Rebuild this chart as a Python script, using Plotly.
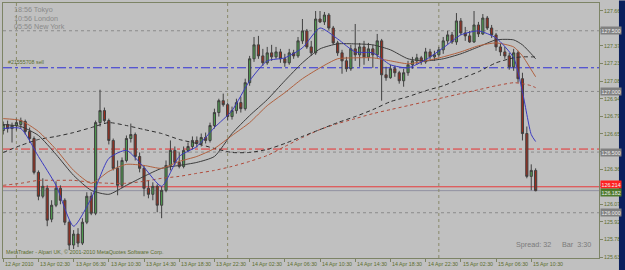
import pandas as pd
import plotly.graph_objects as go

# ---------------- data ----------------
bar_times = pd.date_range("2010-04-12 22:30", periods=122, freq="30min")

opens = [126.678, 126.727, 126.694, 126.719, 126.727, 126.752, 126.670, 126.612, 126.333, 126.136,
         126.202, 125.947, 126.062, 126.202, 126.103, 125.922, 125.734, 125.824, 125.750, 125.922,
         126.136, 125.996, 126.743, 126.842, 126.760, 126.596, 126.366, 126.226, 126.431, 126.612,
         126.645, 126.464, 126.366, 126.202, 126.152, 126.218, 126.062, 126.185, 126.390, 126.514,
         126.415, 126.382, 126.514, 126.546, 126.596, 126.571, 126.620, 126.596, 126.719, 126.826,
         126.924, 126.891, 126.793, 126.842, 126.908, 126.858, 127.072, 127.269, 127.384, 127.293,
         127.236, 127.318, 127.285, 127.326, 127.269, 127.236, 127.318, 127.293, 127.417, 127.499,
         127.367, 127.318, 127.597, 127.573, 127.630, 127.523, 127.400, 127.318, 127.252, 127.187,
         127.351, 127.302, 127.367, 127.285, 127.351, 127.302, 127.417, 127.137, 127.113, 127.187,
         127.154, 127.088, 127.154, 127.220, 127.252, 127.277, 127.244, 127.326, 127.285, 127.302,
         127.343, 127.417, 127.466, 127.408, 127.581, 127.482, 127.458, 127.408, 127.548, 127.474,
         127.605, 127.523, 127.466, 127.367, 127.326, 127.293, 127.203, 127.318, 127.105, 126.653,
         126.300, 126.349]

highs = [126.752, 126.760, 126.743, 126.776, 126.784, 126.768, 126.702, 126.629, 126.349, 126.284,
         126.226, 126.103, 126.259, 126.226, 126.119, 125.939, 125.857, 125.873, 125.955, 126.169,
         126.169, 126.760, 127.014, 126.867, 126.776, 126.612, 126.431, 126.456, 126.637, 126.735,
         126.661, 126.497, 126.390, 126.267, 126.251, 126.234, 126.218, 126.431, 126.596, 126.546,
         126.497, 126.546, 126.579, 126.629, 126.629, 126.653, 126.661, 126.743, 126.858, 126.940,
         126.982, 126.908, 126.875, 126.940, 126.957, 127.105, 127.293, 127.449, 127.458, 127.351,
         127.367, 127.384, 127.367, 127.351, 127.310, 127.351, 127.343, 127.449, 127.597, 127.515,
         127.417, 127.663, 127.663, 127.655, 127.646, 127.540, 127.417, 127.343, 127.285, 127.384,
         127.556, 127.400, 127.417, 127.400, 127.384, 127.474, 127.433, 127.203, 127.220, 127.211,
         127.170, 127.187, 127.252, 127.285, 127.310, 127.293, 127.359, 127.351, 127.335, 127.367,
         127.449, 127.499, 127.490, 127.646, 127.605, 127.532, 127.499, 127.663, 127.573, 127.638,
         127.622, 127.548, 127.482, 127.392, 127.367, 127.318, 127.351, 127.335, 127.154, 126.711,
         126.399, 126.366]

lows = [126.645, 126.661, 126.579, 126.678, 126.694, 126.645, 126.579, 126.316, 126.103, 126.119,
        125.889, 125.922, 126.046, 126.070, 125.898, 125.692, 125.701, 125.717, 125.734, 125.906,
        125.980, 125.980, 126.711, 126.743, 126.563, 126.349, 126.144, 126.202, 126.415, 126.579,
        126.431, 126.333, 126.136, 126.119, 126.103, 126.004, 125.955, 126.169, 126.349, 126.390,
        126.366, 126.366, 126.497, 126.522, 126.538, 126.546, 126.571, 126.579, 126.694, 126.793,
        126.875, 126.760, 126.768, 126.817, 126.826, 126.842, 127.047, 127.244, 127.269, 127.211,
        127.220, 127.252, 127.269, 127.236, 127.203, 127.220, 127.269, 127.277, 127.392, 127.351,
        127.293, 127.302, 127.564, 127.548, 127.507, 127.384, 127.293, 127.146, 127.162, 127.170,
        127.252, 127.203, 127.220, 127.252, 127.195, 127.277, 126.924, 127.088, 127.105, 127.121,
        127.064, 127.039, 127.129, 127.187, 127.220, 127.220, 127.228, 127.261, 127.252, 127.285,
        127.310, 127.392, 127.392, 127.384, 127.466, 127.417, 127.400, 127.400, 127.449, 127.466,
        127.507, 127.441, 127.335, 127.293, 127.269, 127.179, 127.170, 127.072, 126.596, 126.284,
        126.185, 126.177]

closes = [126.727, 126.694, 126.719, 126.743, 126.760, 126.670, 126.612, 126.333, 126.136, 126.218,
          125.939, 126.062, 126.202, 126.103, 125.922, 125.734, 125.824, 125.750, 125.922, 126.136,
          125.996, 126.743, 126.842, 126.760, 126.596, 126.366, 126.226, 126.431, 126.612, 126.645,
          126.464, 126.366, 126.202, 126.152, 126.218, 126.062, 126.185, 126.390, 126.514, 126.415,
          126.382, 126.514, 126.546, 126.596, 126.571, 126.620, 126.596, 126.719, 126.826, 126.924,
          126.891, 126.793, 126.842, 126.908, 126.858, 127.072, 127.269, 127.384, 127.293, 127.236,
          127.318, 127.285, 127.326, 127.269, 127.236, 127.318, 127.293, 127.417, 127.499, 127.367,
          127.318, 127.597, 127.573, 127.630, 127.523, 127.400, 127.318, 127.252, 127.187, 127.351,
          127.302, 127.367, 127.285, 127.351, 127.302, 127.417, 127.137, 127.113, 127.187, 127.154,
          127.088, 127.154, 127.220, 127.252, 127.277, 127.244, 127.326, 127.285, 127.302, 127.343,
          127.417, 127.466, 127.408, 127.581, 127.482, 127.458, 127.408, 127.548, 127.474, 127.605,
          127.523, 127.466, 127.367, 127.326, 127.293, 127.203, 127.318, 127.105, 126.653, 126.300,
          126.349, 126.182]

ma_times = list(pd.date_range("2010-04-12 22:30", "2010-04-15 08:30", freq="2h")) + [
    pd.Timestamp("2010-04-15 09:30"), pd.Timestamp("2010-04-15 10:30"), pd.Timestamp("2010-04-15 11:00")]

ma_fast = [126.694, 126.694, 126.464, 126.226, 125.889, 126.119, 126.448, 126.514, 126.374, 126.218,
           126.464, 126.546, 126.702, 126.842, 127.088, 127.252, 127.277, 127.359, 127.523, 127.433,
           127.326, 127.318, 127.220, 127.195, 127.261, 127.359, 127.466, 127.499, 127.441, 127.277,
           126.998, 126.645, 126.587]
ma_mid = [126.776, 126.760, 126.670, 126.522, 126.349, 126.243, 126.341, 126.399, 126.390, 126.366,
          126.423, 126.464, 126.530, 126.637, 126.743, 126.883, 126.990, 127.105, 127.195, 127.269,
          127.277, 127.277, 127.252, 127.228, 127.252, 127.285, 127.326, 127.376, 127.400, 127.367,
          127.293, 127.179, 127.121]
ma_slow = [126.727, 126.711, 126.637, 126.481, 126.308, 126.185, 126.152, 126.226, 126.300, 126.366,
           126.390, 126.415, 126.464, 126.653, 126.801, 126.932, 127.088, 127.236, 127.351, 127.392,
           127.392, 127.384, 127.343, 127.269, 127.252, 127.269, 127.310, 127.367, 127.425, 127.425,
           127.384, 127.310, 127.269]
ma_long = [126.497, 126.555, 126.604, 126.629, 126.661, 126.702, 126.743, 126.719, 126.686, 126.653,
           126.604, 126.571, 126.530, 126.497, 126.497, 126.522, 126.571, 126.629, 126.686, 126.743,
           126.793, 126.850, 126.916, 126.957, 127.006, 127.047, 127.105, 127.162, 127.236, 127.277,
           127.285, 127.285, 127.285]
ma_longest = [126.226, 126.243, 126.267, 126.267, 126.267, 126.251, 126.243, 126.243, 126.259, 126.284,
              126.300, 126.325, 126.349, 126.382, 126.423, 126.472, 126.546, 126.620, 126.686, 126.735,
              126.776, 126.817, 126.850, 126.883, 126.916, 126.949, 126.982, 127.014, 127.047, 127.072,
              127.064, 127.047, 127.031]

round_levels = [127.5, 127.0, 126.5, 126.0]
order_level = 127.195
red_level = 126.525
ask_price = 126.214
bid_price = 126.182
day_separators = ["2010-04-13 00:00", "2010-04-14 00:00", "2010-04-15 00:00"]

y_ticks = [127.665, 127.520, 127.375, 127.230, 127.085, 126.940, 126.795, 126.650,
           126.505, 126.360, 126.215, 126.070, 125.925, 125.780, 125.635]
y_ticks_hidden = [127.520, 126.505, 126.215]   # covered by price boxes in the reference

x_tick_times = ["2010-04-12 22:30", "2010-04-13 02:30", "2010-04-13 06:30", "2010-04-13 10:30",
                "2010-04-13 14:30", "2010-04-13 18:30", "2010-04-13 22:30", "2010-04-14 02:30",
                "2010-04-14 06:30", "2010-04-14 10:30", "2010-04-14 14:30", "2010-04-14 18:30",
                "2010-04-14 22:30", "2010-04-15 02:30", "2010-04-15 06:30", "2010-04-15 10:30"]
x_tick_labels = ["12 Apr 2010", "13 Apr 02:30", "13 Apr 06:30", "13 Apr 10:30", "13 Apr 14:30",
                 "13 Apr 18:30", "13 Apr 22:30", "14 Apr 02:30", "14 Apr 06:30", "14 Apr 10:30",
                 "14 Apr 14:30", "14 Apr 18:30", "14 Apr 22:30", "15 Apr 02:30", "15 Apr 06:30",
                 "15 Apr 10:30"]

sessions = ["18:56 Tokyo", "10:56 London", "05:56 New York"]

# ---------------- style ----------------
BG = "#c0c0c0"
OLIVE = "#5c6e2e"
FRAME = "#7d8466"
FONT = "Liberation Sans, Arial, sans-serif"
SMALL = 5.3

fig = go.Figure()

fig.add_trace(go.Candlestick(
    x=bar_times, open=opens, high=highs, low=lows, close=closes,
    increasing=dict(fillcolor="#4f9a4f", line=dict(color="#404040", width=1)),
    decreasing=dict(fillcolor="#9c2e1e", line=dict(color="#404040", width=1)),
    whiskerwidth=0, hoverinfo="skip", showlegend=False))

def ma_line(vals, color, dash="solid"):
    fig.add_trace(go.Scatter(x=ma_times, y=vals, mode="lines",
                             line=dict(color=color, width=1, dash=dash, shape="spline", smoothing=0.6),
                             hoverinfo="skip", showlegend=False))

ma_line(ma_longest, "#b04a3a", "dot")
ma_line(ma_long, "#2e2e2e", "4px,3px")
ma_line(ma_slow, "#3c3c3c")
ma_line(ma_mid, "#b0603e")
ma_line(ma_fast, "#3a3ac0")

shapes = []
for lv in round_levels:
    shapes.append(dict(type="line", xref="paper", x0=0, x1=1, yref="y", y0=lv, y1=lv,
                       line=dict(color="#8a8a8a", width=1, dash="dot"), layer="below"))
shapes.append(dict(type="line", xref="paper", x0=0, x1=1, yref="y", y0=order_level, y1=order_level,
                   line=dict(color="#3030d8", width=1, dash="dashdot"), layer="below"))
shapes.append(dict(type="line", xref="paper", x0=0, x1=1, yref="y", y0=red_level, y1=red_level,
                   line=dict(color="#e83030", width=1, dash="dashdot"), layer="below"))
shapes.append(dict(type="line", xref="paper", x0=0, x1=1, yref="y", y0=ask_price, y1=ask_price,
                   line=dict(color="#e83a3a", width=1), layer="below"))
shapes.append(dict(type="line", xref="paper", x0=0, x1=1, yref="y", y0=bid_price, y1=bid_price,
                   line=dict(color="#9090a0", width=1), layer="below"))
for d in day_separators:
    shapes.append(dict(type="line", xref="x", x0=d, x1=d, yref="paper", y0=0, y1=1,
                       line=dict(color="#8a8a6a", width=1, dash="dot"), layer="below"))
# window frame strips
shapes.append(dict(type="rect", xref="paper", yref="paper", x0=-0.01, x1=1.045, y0=-0.047, y1=-0.06,
                   fillcolor="#0a1f5c", line=dict(width=0)))
shapes.append(dict(type="rect", xref="paper", yref="paper", x0=1.0335, x1=1.045, y0=-0.06, y1=1.01,
                   fillcolor="#0a1f5c", line=dict(width=0)))

ann = []
for t, lab in zip(x_tick_times, x_tick_labels):
    ann.append(dict(x=t, xref="x", y=0, yref="paper", yanchor="top", xanchor="left", yshift=-1,
                    text=lab, showarrow=False, font=dict(family=FONT, size=SMALL, color=OLIVE)))
for i, s in enumerate(sessions):
    ann.append(dict(x=0.015, xref="paper", y=[0.973, 0.941, 0.906][i], yref="paper",
                    xanchor="left", yanchor="middle", text=s, showarrow=False,
                    font=dict(family=FONT, size=7.2, color="#8a8a8a")))
ann.append(dict(x=0.005, xref="paper", y=order_level, yref="y", yanchor="bottom", xanchor="left",
                yshift=1, text="#21555708 sell", showarrow=False,
                font=dict(family=FONT, size=SMALL, color=OLIVE)))
ann.append(dict(x=0.002, xref="paper", y=0.0, yref="paper", yanchor="bottom", xanchor="left",
                yshift=1, text="MetaTrader - Alpari UK, \u00a9 2001-2010 MetaQuotes Software Corp.",
                showarrow=False, font=dict(family=FONT, size=5.4, color=OLIVE)))
ann.append(dict(x=0.858, xref="paper", y=0.051, yref="paper", yanchor="middle", xanchor="left",
                text="Spread: 32", showarrow=False, font=dict(family=FONT, size=7.2, color="#7a7a7a")))
ann.append(dict(x=0.935, xref="paper", y=0.051, yref="paper", yanchor="middle", xanchor="left",
                text="Bar  3:30", showarrow=False, font=dict(family=FONT, size=7.2, color="#7a7a7a")))

def price_box(v, text, bg, shift=0):
    ann.append(dict(x=1, xref="paper", y=v, yref="y", xanchor="left", yanchor="middle", xshift=1,
                    yshift=shift, text=text, showarrow=False, bgcolor=bg, borderpad=0.5,
                    font=dict(family=FONT, size=SMALL, color="#f0f0f0")))

for lv in round_levels:
    price_box(lv, f"{lv:.3f}", "#808080")
price_box(ask_price, f"{ask_price:.3f}", "#ff2020", shift=2)
price_box(bid_price, f"{bid_price:.3f}", "#4e7a2c", shift=-2)

fig.update_layout(
    width=625, height=270,
    margin=dict(l=2, r=23, t=2, b=12),
    paper_bgcolor=BG, plot_bgcolor=BG,
    showlegend=False,
    shapes=shapes, annotations=ann,
    xaxis=dict(type="date", range=["2010-04-12 22:28:30", "2010-04-15 18:12"],
               showgrid=False, zeroline=False, rangeslider=dict(visible=False),
               showline=True, mirror=True, linecolor=FRAME, linewidth=1,
               tickvals=x_tick_times, showticklabels=False, ticks="outside", ticklen=3,
               tickcolor=FRAME),
    yaxis=dict(range=[125.627, 127.729], side="right", showgrid=False, zeroline=False,
               showline=True, mirror=True, linecolor=FRAME, linewidth=1,
               tickvals=y_ticks,
               ticktext=["" if v in y_ticks_hidden else f"{v:.3f}" for v in y_ticks],
               ticks="outside", ticklen=3, tickcolor=FRAME,
               tickfont=dict(family=FONT, size=SMALL, color=OLIVE)),
)

fig.write_html("out.html")
